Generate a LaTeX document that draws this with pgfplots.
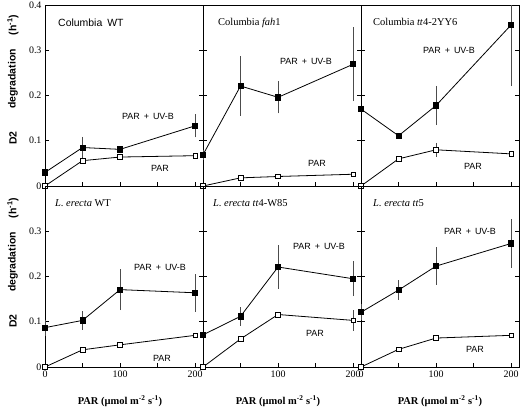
\documentclass[border=0pt]{standalone}
\usepackage{pgfplots}
\pgfplotsset{compat=1.18}
\usepackage{fontspec}
\setmainfont{Liberation Serif}
\newfontfamily\hv{Liberation Sans}

\pgfplotsset{
  panel/.style={
    width=158bp, height=181bp, scale only axis,
    xmin=0, xmax=210.5, ymin=0, ymax=0.4,
    xtick={0,50,100,150,200},
    ytick={0,0.1,0.2,0.3,0.4},
    xticklabels={}, yticklabels={},
    tick align=inside, xtick pos=bottom, ytick pos=both,
    major tick length=4bp,
    axis line style={line width=0.8pt},
    tick style={line width=0.6pt, black},
    tick label style={font=\fontsize{10}{12}\selectfont},
    /pgf/number format/assume math mode=true,
    anchor=north west,
  },
  uvb/.style={black, line width=0.8pt, mark=square*, mark size=2.6bp, mark options={fill=black, solid}},
  par/.style={black, line width=0.8pt, mark=square*, mark size=2.3bp, mark options={fill=white, solid, line width=0.6pt}},
  eb/.style={draw=none, forget plot, mark=none,
    error bars/.cd, y dir=both, y explicit,
    error bar style={draw=black!70, line width=0.6pt},
    error mark options={draw=black!70, mark size=2.5bp, line width=0.6pt}},
}
\newcommand{\sanslab}[1]{{\hv\fontsize{9}{11}\selectfont #1}}
\newcommand{\uvblab}{\sanslab{PAR\hspace{4pt}+\hspace{4pt}UV-B}}

\begin{document}
\begin{tikzpicture}
\path[use as bounding box] (0,0) rectangle (522bp,-410bp);

% ---------- Panel 1: Columbia WT ----------
\begin{axis}[panel, at={(45bp,-5bp)}, yticklabels={0,0.1,0.2,0.3,0.4}]
\addplot[eb] coordinates {(50,0.085) +- (0,0.018) (200,0.133) +- (0,0.020)};
\addplot[uvb] coordinates {(0,0.030)(50,0.085)(100,0.081)(200,0.133)};
\addplot[par] coordinates {(0,0)(50,0.056)(100,0.064)(200,0.067)};
\end{axis}

% ---------- Panel 2: Columbia fah1 ----------
\begin{axis}[panel, at={(203bp,-5bp)}]
\addplot[eb] coordinates {(0,0.069) +- (0,0.006) (50,0.221) +- (0,0.060) (100,0.196) +- (0,0.030) (200,0.269) +- (0,0.076)};
\addplot[uvb] coordinates {(0,0.069)(50,0.221)(100,0.196)(200,0.269)};
\addplot[par] coordinates {(0,0)(50,0.018)(100,0.021)(200,0.026)};
\end{axis}

% ---------- Panel 3: Columbia tt4-2YY6 ----------
\begin{axis}[panel, at={(361bp,-5bp)}]
\addplot[eb] coordinates {(100,0.178) +- (0,0.038) (200,0.356) +- (0,0.130)};
\addplot[eb] coordinates {(100,0.080) +- (0,0.010)};
\addplot[uvb] coordinates {(0,0.170)(50,0.111)(100,0.178)(200,0.356)};
\addplot[par] coordinates {(0,0)(50,0.060)(100,0.080)(200,0.071)};
\end{axis}

% ---------- Panel 4: L. erecta WT ----------
\begin{axis}[panel, at={(45bp,-186bp)}, yticklabels={0,0.1,0.2,0.3,}, xticklabels={0,,100,,200}]
\addplot[eb] coordinates {(0,0.087) +- (0,0.012) (50,0.103) +- (0,0.015) (100,0.171) +- (0,0.040) (200,0.164) +- (0,0.036)};
\addplot[uvb] coordinates {(0,0.087)(50,0.103)(100,0.171)(200,0.164)};
\addplot[par] coordinates {(0,0)(50,0.038)(100,0.049)(200,0.070)};
\end{axis}

% ---------- Panel 5: L. erecta tt4-W85 ----------
\begin{axis}[panel, at={(203bp,-186bp)}, xticklabels={,,100,,200}]
\addplot[eb] coordinates {(50,0.112) +- (0,0.015) (100,0.221) +- (0,0.043) (200,0.195) +- (0,0.033)};
\addplot[eb] coordinates {(200,0.103) +- (0,0.017)};
\addplot[uvb] coordinates {(0,0.071)(50,0.112)(100,0.221)(200,0.195)};
\addplot[par] coordinates {(0,0)(50,0.062)(100,0.116)(200,0.103)};
\end{axis}

% ---------- Panel 6: L. erecta tt5 ----------
\begin{axis}[panel, at={(361bp,-186bp)}, xticklabels={0,,100,,200}]
\addplot[eb] coordinates {(0,0.121) +- (0,0.012) (50,0.170) +- (0,0.016) (100,0.223) +- (0,0.036) (200,0.273) +- (0,0.048)};
\addplot[uvb] coordinates {(0,0.121)(50,0.170)(100,0.223)(200,0.273)};
\addplot[par] coordinates {(0,0)(50,0.039)(100,0.064)(200,0.070)};
\end{axis}

% ---------- Panel titles ----------
\node[anchor=west, inner sep=0] at (58bp,-23bp) {\hv\fontsize{10.5}{12}\selectfont Columbia\hspace{5pt}WT};
\node[anchor=west, inner sep=0] at (218bp,-23bp) {\fontsize{10.5}{12}\selectfont Columbia \textit{fah}1};
\node[anchor=west, inner sep=0] at (373bp,-22bp) {\fontsize{10.5}{12}\selectfont Columbia \textit{tt}4-2YY6};
\node[anchor=west, inner sep=0] at (55bp,-203bp) {\fontsize{10.5}{12}\selectfont \textit{L. erecta} WT};
\node[anchor=west, inner sep=0] at (213bp,-203bp) {\fontsize{10.5}{12}\selectfont \textit{L. erecta tt}4-W85};
\node[anchor=west, inner sep=0] at (373bp,-203bp) {\fontsize{10.5}{12}\selectfont \textit{L. erecta tt}5};

% ---------- Series annotations ----------
\node[inner sep=0] at (148bp,-116bp) {\uvblab};
\node[inner sep=0] at (160bp,-168bp) {\sanslab{PAR}};
\node[inner sep=0] at (306bp,-61bp) {\uvblab};
\node[inner sep=0] at (317bp,-163bp) {\sanslab{PAR}};
\node[inner sep=0] at (449bp,-50bp) {\uvblab};
\node[inner sep=0] at (473bp,-166bp) {\sanslab{PAR}};
\node[inner sep=0] at (160bp,-267bp) {\uvblab};
\node[inner sep=0] at (162bp,-358bp) {\sanslab{PAR}};
\node[inner sep=0] at (319bp,-246bp) {\uvblab};
\node[inner sep=0] at (315bp,-333bp) {\sanslab{PAR}};
\node[inner sep=0] at (470bp,-231bp) {\uvblab};
\node[inner sep=0] at (475bp,-349bp) {\sanslab{PAR}};

% ---------- Y labels ----------
\foreach \dy in {0,183}{
  \node[rotate=90, inner sep=0] at (13bp,{-(138+\dy)*1bp}) {\hv\bfseries\fontsize{10.5}{12}\selectfont D2};
  \node[rotate=90, inner sep=0] at (13bp,{-(79+\dy)*1bp}) {\hv\bfseries\fontsize{10.5}{12}\selectfont degradation};
  \node[rotate=90, inner sep=0] at (13bp,{-(25+\dy)*1bp}) {\hv\bfseries\fontsize{10.5}{12}\selectfont (h\textsuperscript{-1})};
}

% ---------- X labels ----------
\foreach \cx in {120,278,440}{
  \node[inner sep=0] at (\cx bp,-401bp) {\bfseries\fontsize{10.5}{12}\selectfont PAR (µmol m\textsuperscript{-2} s\textsuperscript{-1})};
}
\end{tikzpicture}
\end{document}
